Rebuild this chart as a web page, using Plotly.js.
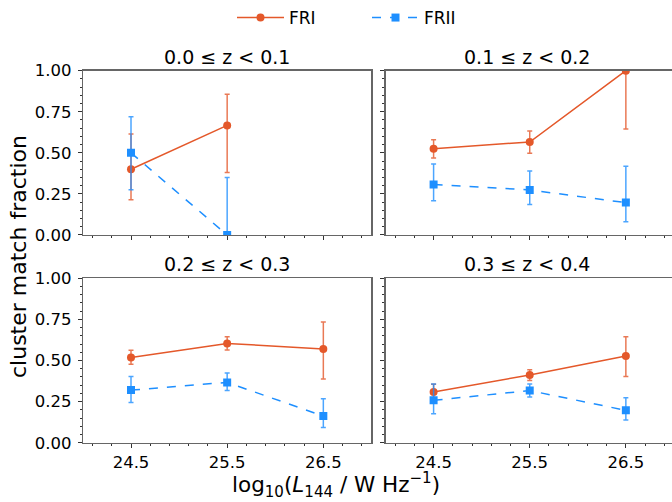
<!DOCTYPE html>
<html>
<head>
<meta charset="utf-8">
<script src="https://cdn.plot.ly/plotly-3.0.1.min.js"></script>
<style>html,body{margin:0;padding:0;background:#fff;}#chart{width:672px;height:502px;}</style>
</head>
<body>
<div id="chart"></div>
<script>
// ---- data ----
const logL = [24.5, 25.5, 26.5];
const panelTitles = ["0.0 ≤ z < 0.1", "0.1 ≤ z < 0.2", "0.2 ≤ z < 0.3", "0.3 ≤ z < 0.4"];

// z 0.0-0.1
const fri_z0 = [0.40, 0.667];
const fri_z0_up = [0.215, 0.19];
const fri_z0_lo = [0.185, 0.286];
const frii_z0 = [0.50, 0.0];
const frii_z0_up = [0.22, 0.35];
const frii_z0_lo = [0.225, 0.0];

// z 0.1-0.2
const fri_z1 = [0.525, 0.566, 1.0];
const fri_z1_up = [0.055, 0.067, 0.0];
const fri_z1_lo = [0.056, 0.069, 0.355];
const frii_z1 = [0.308, 0.274, 0.197];
const frii_z1_up = [0.124, 0.115, 0.221];
const frii_z1_lo = [0.099, 0.089, 0.116];

// z 0.2-0.3
const fri_z2 = [0.519, 0.604, 0.570];
const fri_z2_up = [0.043, 0.041, 0.164];
const fri_z2_lo = [0.042, 0.040, 0.183];
const frii_z2 = [0.320, 0.367, 0.162];
const frii_z2_up = [0.082, 0.057, 0.106];
const frii_z2_lo = [0.075, 0.049, 0.069];

// z 0.3-0.4
const fri_z3 = [0.308, 0.412, 0.527];
const fri_z3_up = [0.048, 0.032, 0.118];
const fri_z3_lo = [0.045, 0.033, 0.125];
const frii_z3 = [0.258, 0.317, 0.197];
const frii_z3_up = [0.099, 0.040, 0.077];
const frii_z3_lo = [0.082, 0.039, 0.059];

const xTickVals = [24.5, 25.5, 26.5];
const xTickText = ["24.5", "25.5", "26.5"];
const yTickVals = [0, 0.25, 0.5, 0.75, 1.0];
const yTickText = ["0.00", "0.25", "0.50", "0.75", "1.00"];

// ---- styling ----
const cFRI = "#e4582a";
const cFRII = "#1e8fff";
const cFRIerr = "rgba(228,88,42,0.8)";
const cFRIIerr = "rgba(30,143,255,0.8)";
const FONT = "DejaVu Sans";

const panels = [
  {fri: fri_z0, friU: fri_z0_up, friL: fri_z0_lo, frii: frii_z0, friiU: frii_z0_up, friiL: frii_z0_lo},
  {fri: fri_z1, friU: fri_z1_up, friL: fri_z1_lo, frii: frii_z1, friiU: frii_z1_up, friiL: frii_z1_lo},
  {fri: fri_z2, friU: fri_z2_up, friL: fri_z2_lo, frii: frii_z2, friiU: frii_z2_up, friiL: frii_z2_lo},
  {fri: fri_z3, friU: fri_z3_up, friL: fri_z3_lo, frii: frii_z3, friiU: frii_z3_up, friiL: frii_z3_lo}
];

const traces = [];
panels.forEach((p, i) => {
  const xa = i === 0 ? "x" : "x" + (i + 1);
  const ya = i === 0 ? "y" : "y" + (i + 1);
  const n = p.fri.length;
  traces.push({
    x: logL.slice(0, n), y: p.fri, xaxis: xa, yaxis: ya, type: "scatter", mode: "lines+markers",
    name: "FRI", legendgroup: "FRI", showlegend: i === 0,
    line: {color: cFRI, width: 1.5},
    marker: {color: cFRI, size: 8, symbol: "circle"},
    error_y: {type: "data", symmetric: false, array: p.friU, arrayminus: p.friL,
              color: cFRIerr, thickness: 1.5, width: 2.5}
  });
  const m = p.frii.length;
  traces.push({
    x: logL.slice(0, m), y: p.frii, xaxis: xa, yaxis: ya, type: "scatter", mode: "lines+markers",
    name: "FRII", legendgroup: "FRII", showlegend: i === 0,
    line: {color: cFRII, width: 1.5, dash: "dash"},
    marker: {color: cFRII, size: 8, symbol: "square"},
    error_y: {type: "data", symmetric: false, array: p.friiU, arrayminus: p.friiL,
              color: cFRIIerr, thickness: 1.5, width: 2.5}
  });
});

const axisLine = "#666";
function xAxis(domain, range, anchor, showLabels) {
  return {
    domain: domain, range: range, anchor: anchor, showgrid: false, zeroline: false,
    showline: true, mirror: true, linecolor: axisLine, linewidth: 1.2,
    ticks: "outside", ticklen: 4, tickcolor: "#333", tickwidth: 1,
    tickvals: xTickVals, ticktext: xTickText, showticklabels: showLabels,
    tickfont: {family: FONT, size: 16.5, color: "#000"},
    minor: {dtick: 0.2, tick0: 24.1, ticks: "outside", ticklen: 2, tickcolor: "#333", tickwidth: 1},
    fixedrange: true
  };
}
function yAxis(domain, anchor, showLabels) {
  return {
    domain: domain, range: [0, 1], anchor: anchor, showgrid: false, zeroline: false,
    showline: true, mirror: true, linecolor: axisLine, linewidth: 1.2,
    ticks: "outside", ticklen: 4, tickcolor: "#333", tickwidth: 1,
    tickvals: yTickVals, ticktext: yTickText, showticklabels: showLabels,
    tickfont: {family: FONT, size: 16.5, color: "#000"},
    ticklabelstandoff: 3,
    minor: {dtick: 0.05, tick0: 0, ticks: "outside", ticklen: 2, tickcolor: "#333", tickwidth: 1},
    fixedrange: true
  };
}

const xL = [0.1234, 0.5527], xR = [0.5737, 1.0];
const yT = [0.5319, 0.8592], yB = [0.1181, 0.4456];
const rangeL = [24, 27], rangeR = [24, 26.98];

const annotations = [];
const titlePos = [[xL, yT], [xR, yT], [xL, yB], [xR, yB]];
titlePos.forEach((tp, i) => {
  annotations.push({
    text: panelTitles[i], xref: "paper", yref: "paper",
    x: (tp[0][0] + tp[0][1]) / 2 + (i % 2 === 1 ? -0.0025 : 0), y: tp[1][1],
    xanchor: "center", yanchor: "bottom", yshift: 1, showarrow: false,
    font: {family: FONT, size: 19, color: "#000"}
  });
});
annotations.push({
  text: "cluster match fraction", xref: "paper", yref: "paper",
  x: 18 / 672, y: 1 - 257 / 502, xanchor: "center", yanchor: "middle", textangle: -90,
  showarrow: false, font: {family: FONT, size: 22, color: "#000"}
});
annotations.push({
  text: "log<sub>10</sub>(<i>L</i><sub>144</sub> / W Hz<sup>−1</sup>)", xref: "paper", yref: "paper",
  x: 336 / 672, y: 1 - 485 / 502, xanchor: "center", yanchor: "middle",
  showarrow: false, font: {family: FONT, size: 21.5, color: "#000"}
});

const layout = {
  width: 672, height: 502,
  margin: {l: 0, r: 0, t: 0, b: 0},
  paper_bgcolor: "#fff", plot_bgcolor: "#fff",
  font: {family: FONT, color: "#000"},
  showlegend: true,
  legend: {orientation: "h", x: 232 / 672, xanchor: "left", y: 1.0, yanchor: "top",
           font: {family: FONT, size: 17, color: "#000"}, itemwidth: 47,
           entrywidth: 73, entrywidthmode: "pixels", bgcolor: "rgba(0,0,0,0)"},
  xaxis: xAxis(xL, rangeL, "y", false),
  yaxis: yAxis(yT, "x", true),
  xaxis2: xAxis(xR, rangeR, "y2", false),
  yaxis2: yAxis(yT, "x2", false),
  xaxis3: xAxis(xL, rangeL, "y3", true),
  yaxis3: yAxis(yB, "x3", true),
  xaxis4: xAxis(xR, rangeR, "y4", true),
  yaxis4: yAxis(yB, "x4", false),
  annotations: annotations
};

Plotly.newPlot("chart", traces, layout, {displayModeBar: false, staticPlot: true});
</script>
</body>
</html>
